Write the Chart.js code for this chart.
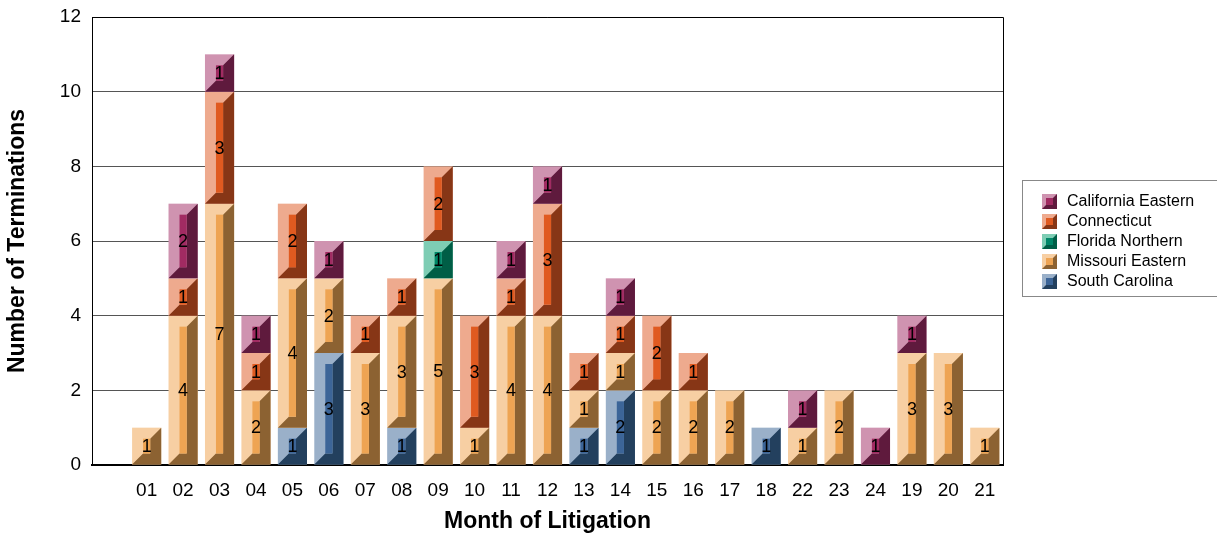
<!DOCTYPE html>
<html lang="en">
<head>
  <meta charset="UTF-8">
  <title>Terminations by Month of Litigation</title>
  <script src="https://cdn.jsdelivr.net/npm/chart.js"></script>
  <style>
    body { margin: 0; background: #fff; }
  </style>
</head>
<body>
  <canvas id="chartTerm" width="1217" height="535"></canvas>

  <script>
    // first slot is an empty category (the reference leaves a gap before 01)
    const months = ["", "01", "02", "03", "04", "05", "06", "07", "08", "09", "10", "11", "12",
      "13", "14", "15", "16", "17", "18", "22", "23", "24", "19", "20", "21"];

    const southCarolina    = [0, 0, 0, 0, 0, 1, 3, 0, 1, 0, 0, 0, 0, 1, 2, 0, 0, 0, 1, 0, 0, 0, 0, 0, 0];
    const missouriEastern  = [0, 1, 4, 7, 2, 4, 2, 3, 3, 5, 1, 4, 4, 1, 1, 2, 2, 2, 0, 1, 2, 0, 3, 3, 1];
    const floridaNorthern  = [0, 0, 0, 0, 0, 0, 0, 0, 0, 1, 0, 0, 0, 0, 0, 0, 0, 0, 0, 0, 0, 0, 0, 0, 0];
    const connecticut      = [0, 0, 1, 3, 1, 2, 0, 1, 1, 2, 3, 1, 3, 1, 1, 2, 1, 0, 0, 0, 0, 0, 0, 0, 0];
    const californiaEastern = [0, 0, 2, 1, 1, 0, 1, 0, 0, 0, 0, 1, 1, 0, 1, 0, 0, 0, 0, 1, 0, 1, 1, 0, 0];

    const yTicks = [0, 2, 4, 6, 8, 10, 12];

    // light / face / dark shades for the bevelled look
    const shades = {
      "California Eastern": ["#cf93b0", "#a12b62", "#5f1a3d"],
      "Connecticut":        ["#eeaa8e", "#e05a20", "#873616"],
      "Florida Northern":   ["#7ecdb4", "#008768", "#005e46"],
      "Missouri Eastern":   ["#f7cfa3", "#eea453", "#8c6232"],
      "South Carolina":     ["#9ab0c9", "#3c6598", "#23405e"]
    };

    const FONT = "'Liberation Sans', Arial, sans-serif";

    function drawBevel(ctx, l, t, r, b, s, bv) {
      ctx.fillStyle = s[0];
      ctx.fillRect(l, t, r - l, b - t);
      ctx.fillStyle = s[2];
      ctx.beginPath();
      ctx.moveTo(r, t);
      ctx.lineTo(r, b);
      ctx.lineTo(l, b);
      ctx.lineTo(l + bv, b - bv);
      ctx.lineTo(r - bv, b - bv);
      ctx.lineTo(r - bv, t + bv);
      ctx.closePath();
      ctx.fill();
      ctx.fillStyle = s[1];
      ctx.fillRect(l + bv, t + bv, r - l - 2 * bv, b - t - 2 * bv);
    }

    const bevelBars = {
      id: "bevelBars",
      afterDatasetsDraw(chart) {
        const ctx = chart.ctx;
        ctx.save();
        chart.data.datasets.forEach((ds, i) => {
          const meta = chart.getDatasetMeta(i);
          meta.data.forEach((bar, j) => {
            if (!ds.data[j]) return;
            const p = bar.getProps(["x", "y", "base", "width"], true);
            const l = p.x - p.width / 2, r = p.x + p.width / 2;
            const t = Math.min(p.y, p.base), b = Math.max(p.y, p.base);
            drawBevel(ctx, l, t, r, b, shades[ds.label], Math.round(p.width * 0.37));
          });
        });
        // value labels
        ctx.fillStyle = "#000";
        ctx.font = "18px " + FONT;
        ctx.textAlign = "center";
        ctx.textBaseline = "middle";
        chart.data.datasets.forEach((ds, i) => {
          const meta = chart.getDatasetMeta(i);
          meta.data.forEach((bar, j) => {
            if (!ds.data[j]) return;
            const p = bar.getProps(["x", "y", "base"], true);
            ctx.fillText(String(ds.data[j]), p.x, (p.y + p.base) / 2 + 1);
          });
        });
        ctx.restore();
      },
      afterDraw(chart) {
        const ctx = chart.ctx;
        const a = chart.chartArea;
        ctx.save();
        // frame top / right
        ctx.strokeStyle = "#000";
        ctx.lineWidth = 1;
        ctx.beginPath();
        ctx.moveTo(a.left, a.top + 0.5);
        ctx.lineTo(a.right + 0.5, a.top + 0.5);
        ctx.lineTo(a.right + 0.5, a.bottom);
        ctx.stroke();

        // legend
        ctx.strokeStyle = "#888";
        ctx.strokeRect(1022.5, 180.5, 230, 116);
        ctx.font = "16px " + FONT;
        ctx.textAlign = "left";
        ctx.textBaseline = "middle";
        const names = Object.keys(shades);
        names.forEach((n, k) => {
          const cy = 201 + k * 20;
          drawBevel(ctx, 1042, cy - 7, 1057, cy + 8, shades[n], 4);
          ctx.fillStyle = "#000";
          ctx.fillText(n, 1067, cy + 1);
        });
        ctx.restore();
      }
    };

    const series = [
      ["South Carolina", southCarolina],
      ["Missouri Eastern", missouriEastern],
      ["Florida Northern", floridaNorthern],
      ["Connecticut", connecticut],
      ["California Eastern", californiaEastern]
    ];

    new Chart(document.getElementById("chartTerm"), {
      type: "bar",
      data: {
        labels: months,
        datasets: series.map(([label, data]) => ({
          label,
          data,
          backgroundColor: "rgba(0,0,0,0)",
          borderWidth: 0,
          barPercentage: 0.8,
          categoryPercentage: 1
        }))
      },
      options: {
        responsive: false,
        animation: false,
        layout: { padding: { left: 0, top: 17, right: 214, bottom: 0 } },
        plugins: {
          legend: { display: false },
          tooltip: { enabled: false }
        },
        scales: {
          x: {
            stacked: true,
            grid: { display: false, drawTicks: false },
            border: { color: "#000", width: 2 },
            ticks: { color: "#000", font: { family: FONT, size: 19 }, padding: 14, maxRotation: 0, autoSkip: false },
            title: { display: true, text: "Month of Litigation", color: "#000",
              font: { family: FONT, size: 23, weight: "bold" }, padding: { top: 0, bottom: 0 } },
            afterFit: s => { s.height = 70; s.paddingLeft = 0; s.paddingRight = 0; }
          },
          y: {
            stacked: true,
            min: 0,
            max: 12,
            afterBuildTicks: s => { s.ticks = yTicks.map(v => ({ value: v })); },
            grid: { color: "#555", drawTicks: false },
            border: { color: "#000", width: 1 },
            ticks: { color: "#000", font: { family: FONT, size: 19 }, padding: 11 },
            title: { display: true, text: "Number of Terminations", color: "#000",
              font: { family: FONT, size: 23, weight: "bold" }, padding: { top: 4, bottom: 0 } },
            afterFit: s => { s.width = 92; s.paddingTop = 0; s.paddingBottom = 0; }
          }
        }
      },
      plugins: [bevelBars]
    });
  </script>
</body>
</html>
